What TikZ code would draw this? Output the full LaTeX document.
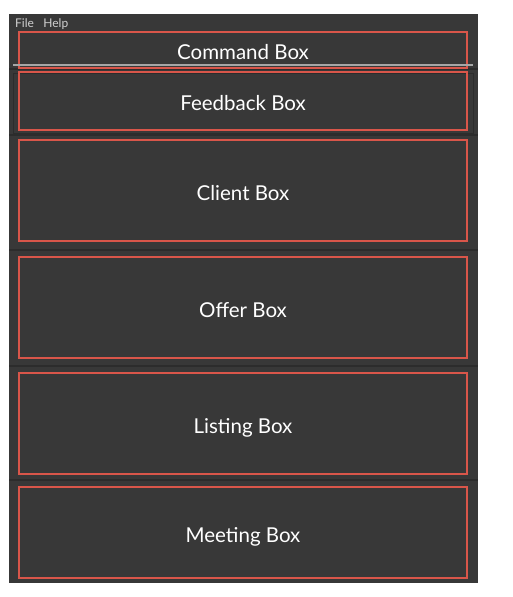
\documentclass[tikz,border=0pt]{standalone}
\usepackage{fontspec}
\setmainfont{Lato}
\usepackage{tikz}
\usetikzlibrary{positioning}
\definecolor{PanelGray}{HTML}{383838}
\definecolor{SplitGray}{HTML}{2C2C2C}
\definecolor{BoxRed}{HTML}{D9564A}
\definecolor{MenuText}{HTML}{D0D0D0}

\begin{document}
\begin{tikzpicture}[x=1pt, y=-1pt,
    uibox/.style={rectangle, draw=BoxRed, line width=1.2pt, minimum width=448pt,
                  text=white, font=\fontsize{20.5}{24}\selectfont, align=center, inner sep=0pt,
                  text height=19pt, text depth=0pt},
    menu/.style={text=MenuText, font=\fontsize{12}{14}\selectfont, inner sep=0pt},
    split/.style={SplitGray, line width=1.5pt}
]
    \useasboundingbox (0,0) rectangle (512,597);

    % Window
    \fill[PanelGray] (9,14) rectangle (478,583);
    \node[menu, anchor=base west] (file) at (15,27.5) {File};
    \node[menu, base right=9pt of file] (help) {Help};

    % Splitters
    \draw[split] (9,69) -- (478,69);
    \draw[split] (9,135) -- (478,135);
    \draw[split] (9,250) -- (478,250);
    \draw[split] (9,366) -- (478,366);
    \draw[split] (9,480) -- (478,480);
    \draw[SplitGray, line width=0.8pt] (13,73) rectangle (473,133);

    % Boxes
    \node[uibox, minimum height=36pt] (cmd) at (243,50) {Command Box};
    \draw[gray!70, line width=1.2pt] (13,65) -- (473,65);
    \node[uibox, minimum height=58pt] (feedback) at (243,101) {Feedback Box};
    \node[uibox, minimum height=101pt] (client) at (243,190.5) {Client Box};
    \node[uibox, minimum height=101pt] (offer) at (243,307.5) {Offer Box};
    \node[uibox, minimum height=101pt] (listing) at (243,423.5) {Listing Box};
    \node[uibox, minimum height=91pt] (meeting) at (243,532.5) {Meeting Box};
\end{tikzpicture}
\end{document}
